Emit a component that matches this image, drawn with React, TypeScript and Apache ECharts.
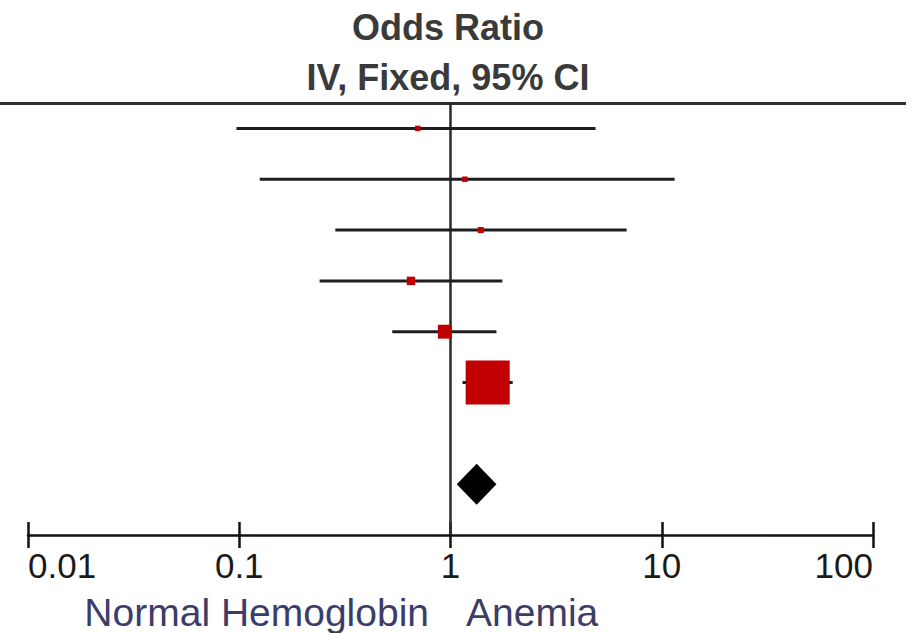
import React, { useEffect, useRef } from "react";
import * as echarts from "echarts";

// Study rows (top to bottom): odds ratio and 95% CI
const studyOR = [0.7, 1.17, 1.39, 0.65, 0.94, 1.5];
const studyLo = [0.097, 0.125, 0.285, 0.24, 0.53, 1.14];
const studyHi = [4.86, 11.5, 6.82, 1.76, 1.65, 1.97];
const studyWeight = [1.3, 1.3, 1.6, 3.1, 8.4, 84.3]; // percent
const studyRow = [0, 1, 2, 3, 4, 5];

// Pooled estimate
const pooledOR = 1.33;
const pooledLo = 1.07;
const pooledHi = 1.65;
const pooledRow = 7;

const tickValues = [0.01, 0.1, 1, 10, 100];
const tickLabels = ["0.01", "0.1", "1", "10", "100"];

const titleLines = ["Odds Ratio", "IV, Fixed, 95% CI"];
const leftLabel = "Normal Hemoglobin";
const rightLabel = "Anemia";

export default function App() {
  const ref = useRef<HTMLDivElement>(null);

  useEffect(() => {
    if (!ref.current) return;
    const chart = echarts.init(ref.current, null, { renderer: "svg" });

    const labelFor = (v: number) => {
      const e = Math.round(Math.log10(v));
      const idx = tickValues.findIndex((t) => Math.round(Math.log10(t)) === e);
      return idx >= 0 ? tickLabels[idx] : "";
    };

    const ciData = studyRow.map((r, i) => [studyLo[i], studyHi[i], r]);
    const pointData = studyRow.map((r, i) => ({
      value: [studyOR[i], r],
      symbolSize: Math.sqrt(studyWeight[i] / 100) * 48,
    }));

    const option: any = {
      animation: false,
      grid: { left: 28, right: 40, top: 103, bottom: 98, containLabel: false },
      xAxis: [
        {
          type: "log",
          logBase: 10,
          min: 0.01,
          max: 100,
          splitNumber: 4,
          position: "bottom",
          axisLine: { show: true, onZero: false, lineStyle: { color: "#111", width: 2.5 } },
          axisTick: { show: true, inside: false, length: 13, lineStyle: { color: "#111", width: 2.5 } },
          axisLabel: {
            show: true,
            margin: 13,
            fontFamily: "'Liberation Sans', Arial, sans-serif",
            fontSize: 35,
            color: "#1a1a1a",
            alignMinLabel: "left",
            alignMaxLabel: "right",
            formatter: (v: number) => labelFor(v),
          },
          splitLine: { show: false },
        },
        {
          type: "log",
          logBase: 10,
          min: 0.01,
          max: 100,
          splitNumber: 4,
          position: "bottom",
          axisLine: { show: false, onZero: false },
          axisTick: { show: true, inside: true, length: 13, lineStyle: { color: "#111", width: 2.5 } },
          axisLabel: { show: false },
          splitLine: { show: false },
        },
      ],
      yAxis: { type: "value", min: -0.5, max: 8, inverse: true, show: false },
      series: [
        {
          type: "custom",
          xAxisIndex: 0,
          encode: { x: [0, 1], y: 2 },
          data: ciData,
          z: 2,
          renderItem: (params: any, api: any) => {
            const a = api.coord([api.value(0), api.value(2)]);
            const b = api.coord([api.value(1), api.value(2)]);
            return {
              type: "line",
              shape: { x1: a[0], y1: a[1], x2: b[0], y2: b[1] },
              style: { stroke: "#1e1e1e", lineWidth: 3 },
            };
          },
          markLine: {
            silent: true,
            symbol: "none",
            label: { show: false },
            lineStyle: { color: "#2a2a2a", width: 2.5, type: "solid" },
            data: [{ xAxis: 1 }],
            z: 1,
          },
        },
        {
          type: "scatter",
          xAxisIndex: 0,
          symbol: "rect",
          data: pointData,
          itemStyle: { color: "#c00000", opacity: 1 },
          z: 3,
        },
        {
          type: "custom",
          xAxisIndex: 0,
          encode: { x: [0, 1, 2], y: 3 },
          data: [[pooledLo, pooledOR, pooledHi, pooledRow]],
          z: 3,
          renderItem: (params: any, api: any) => {
            const l = api.coord([api.value(0), api.value(3)]);
            const c = api.coord([api.value(1), api.value(3)]);
            const r = api.coord([api.value(2), api.value(3)]);
            const h = 20.5;
            return {
              type: "polygon",
              shape: {
                points: [
                  [l[0], l[1]],
                  [c[0], c[1] - h],
                  [r[0], r[1]],
                  [c[0], c[1] + h],
                ],
              },
              style: { fill: "#000" },
            };
          },
        },
      ],
      graphic: [
        {
          type: "line",
          shape: { x1: 0, y1: 103.5, x2: 906, y2: 103.5 },
          style: { stroke: "#2e2e2e", lineWidth: 3 },
          silent: true,
        },
        {
          type: "text",
          x: 448,
          y: 27,
          style: {
            text: titleLines[0],
            fontFamily: "'Liberation Sans', Arial, sans-serif",
            fontWeight: "bold",
            fontSize: 36,
            fill: "#3a3a3a",
            align: "center",
            verticalAlign: "middle",
          },
        },
        {
          type: "text",
          x: 448,
          y: 77,
          style: {
            text: titleLines[1],
            fontFamily: "'Liberation Sans', Arial, sans-serif",
            fontWeight: "bold",
            fontSize: 36,
            fill: "#3a3a3a",
            align: "center",
            verticalAlign: "middle",
          },
        },
        {
          type: "text",
          x: 429,
          y: 612,
          style: {
            text: leftLabel,
            fontFamily: "'Liberation Sans', Arial, sans-serif",
            fontSize: 39,
            fill: "#3b3d68",
            align: "right",
            verticalAlign: "middle",
          },
        },
        {
          type: "text",
          x: 466,
          y: 612,
          style: {
            text: rightLabel,
            fontFamily: "'Liberation Sans', Arial, sans-serif",
            fontSize: 39,
            fill: "#3b3d68",
            align: "left",
            verticalAlign: "middle",
          },
        },
      ],
    };

    chart.setOption(option);
    return () => chart.dispose();
  }, []);

  return (
    <div
      ref={ref}
      style={{ position: "absolute", left: 0, top: 0, width: 913, height: 633, background: "#fff" }}
    />
  );
}
